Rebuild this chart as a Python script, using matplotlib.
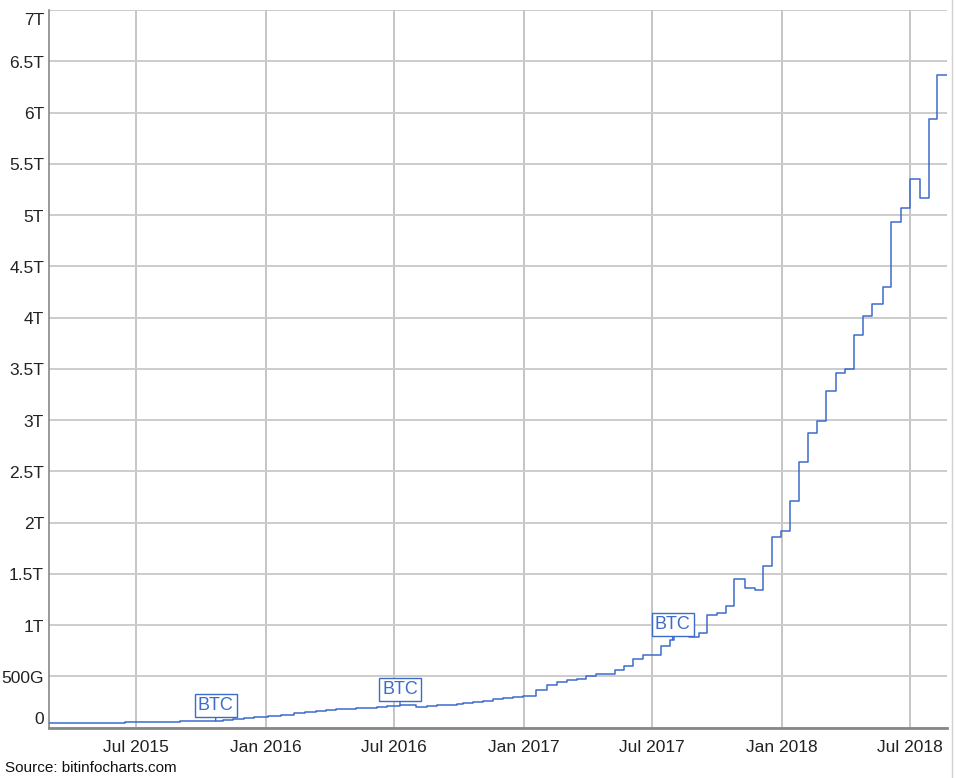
import matplotlib
matplotlib.use("Agg")
import matplotlib.pyplot as plt
import matplotlib.dates as mdates
import matplotlib.transforms as mtransforms
from matplotlib.lines import Line2D
import pandas as pd

plt.rcParams["font.family"] = ["Liberation Sans", "DejaVu Sans"]

# difficulty steps (value in T)
dates = [
    "2015-02-28", "2015-03-15", "2015-04-01", "2015-04-15", "2015-05-01", "2015-05-15",
    "2015-06-01", "2015-06-15", "2015-07-01", "2015-07-15", "2015-08-01", "2015-08-15",
    "2015-09-01", "2015-09-15", "2015-10-01", "2015-10-15", "2015-11-01", "2015-11-15",
    "2015-12-01", "2015-12-15", "2016-01-04", "2016-01-22", "2016-02-10", "2016-02-26",
    "2016-03-12", "2016-03-26", "2016-04-10", "2016-04-25", "2016-05-08", "2016-05-22",
    "2016-06-06", "2016-06-20", "2016-07-09", "2016-08-01", "2016-08-16", "2016-08-30",
    "2016-09-13", "2016-09-28", "2016-10-06", "2016-10-20", "2016-11-04", "2016-11-18",
    "2016-12-02", "2016-12-16", "2016-12-30", "2017-01-18", "2017-02-02", "2017-02-16",
    "2017-03-02", "2017-03-16", "2017-03-30", "2017-04-13", "2017-05-09", "2017-05-22",
    "2017-06-04", "2017-06-18", "2017-07-13", "2017-07-26", "2017-08-01", "2017-08-08",
    "2017-08-22", "2017-09-05", "2017-09-17", "2017-10-01", "2017-10-14", "2017-10-25",
    "2017-11-10", "2017-11-24", "2017-12-05", "2017-12-18", "2017-12-30", "2018-01-12",
    "2018-01-25", "2018-02-06", "2018-02-19", "2018-03-04", "2018-03-18", "2018-03-31",
    "2018-04-13", "2018-04-25", "2018-05-09", "2018-05-24", "2018-06-04", "2018-06-18",
    "2018-07-01", "2018-07-15", "2018-07-28", "2018-08-09", "2018-08-22",
]
values = [
    0.046, 0.047, 0.047, 0.048, 0.047, 0.048,
    0.048, 0.049, 0.050, 0.052, 0.054, 0.056,
    0.059, 0.060, 0.062, 0.065, 0.072, 0.079,
    0.093, 0.103, 0.110, 0.120, 0.144, 0.156,
    0.164, 0.167, 0.178, 0.182, 0.191, 0.195,
    0.200, 0.209, 0.217, 0.203, 0.214, 0.220,
    0.224, 0.234, 0.240, 0.252, 0.258, 0.275,
    0.283, 0.295, 0.310, 0.365, 0.410, 0.440,
    0.460, 0.475, 0.499, 0.521, 0.559, 0.596,
    0.672, 0.705, 0.792, 0.857, 0.896, 0.916,
    0.883, 0.920, 1.10, 1.12, 1.19, 1.45,
    1.36, 1.34, 1.58, 1.86, 1.92, 2.21,
    2.59, 2.87, 2.99, 3.28, 3.46, 3.50,
    3.83, 4.01, 4.13, 4.30, 4.93, 5.07,
    5.35, 5.17, 5.94, 6.37, 6.37,
]

ytick_vals = [0, 0.5, 1, 1.5, 2, 2.5, 3, 3.5, 4, 4.5, 5, 5.5, 6, 6.5, 7]
ytick_labels = ["0", "500G", "1T", "1.5T", "2T", "2.5T", "3T", "3.5T", "4T",
                "4.5T", "5T", "5.5T", "6T", "6.5T", "7T"]
xtick_dates = ["2015-07-01", "2016-01-01", "2016-07-01", "2017-01-01",
               "2017-07-01", "2018-01-01", "2018-07-01"]
btc_marks = ["2015-10-22", "2016-07-09", "2017-07-30"]

x = pd.to_datetime(dates)
blue = "#3d6bcc"

fig = plt.figure(figsize=(9.56, 7.78), dpi=100)
ax = fig.add_axes([49 / 956, 50.5 / 778, 898 / 956, 717.5 / 778])

ax.plot(x, values, color=blue, lw=1.1, drawstyle="steps-post", zorder=3)

ax.set_xlim(pd.Timestamp("2015-02-28"), pd.Timestamp("2018-08-22 12:00"))
ax.set_ylim(0, 7)

ax.set_yticks(ytick_vals)
ax.set_yticklabels([])
ax.set_xticks(pd.to_datetime(xtick_dates))
ax.xaxis.set_major_formatter(mdates.DateFormatter("%b %Y"))
ax.tick_params(axis="both", length=0)
ax.tick_params(axis="x", pad=9, labelsize=12.5, labelcolor="#222222")

ax.grid(axis="y", color="#cccccc", lw=1.4)
ax.grid(axis="x", color="#bbbbbb", lw=1.2)
ax.set_axisbelow(True)

for s in ["top", "right"]:
    ax.spines[s].set_visible(False)
ax.spines["left"].set_color("#888888")
ax.spines["left"].set_linewidth(1.2)
ax.spines["bottom"].set_color("#888888")
ax.spines["bottom"].set_linewidth(2)

# y labels drawn as text so the end labels can sit inside the plot range
trans = mtransforms.blended_transform_factory(ax.transAxes, ax.transData)
for v, lab in zip(ytick_vals, ytick_labels):
    dy = -0.02
    if v == 0:
        dy = 0.08
    elif v == 7:
        dy = -0.1
    ax.text(-0.0055, v + dy, lab, transform=trans, ha="right", va="center",
            fontsize=12.5, color="#222222")

# BTC annotation boxes
for d in btc_marks:
    t = pd.Timestamp(d)
    idx = max(i for i in range(len(x)) if x[i] <= t)
    ax.annotate("BTC", xy=(t, values[idx]), xytext=(0, 7), textcoords="offset pixels",
                ha="center", va="bottom", fontsize=13, color=blue, zorder=5,
                bbox=dict(boxstyle="square,pad=0.17", fc="white", ec=blue, lw=1),
                arrowprops=dict(arrowstyle="-", color=blue, lw=1, shrinkA=0, shrinkB=0))

fig.text(5 / 956, 1 - 768 / 778, "Source: bitinfocharts.com", ha="left", va="center",
         fontsize=11, color="#111111")
fig.add_artist(Line2D([951.5 / 956, 951.5 / 956], [0, 1], color="#d0d0d0", lw=1))

fig.savefig("out.png", dpi=100)
